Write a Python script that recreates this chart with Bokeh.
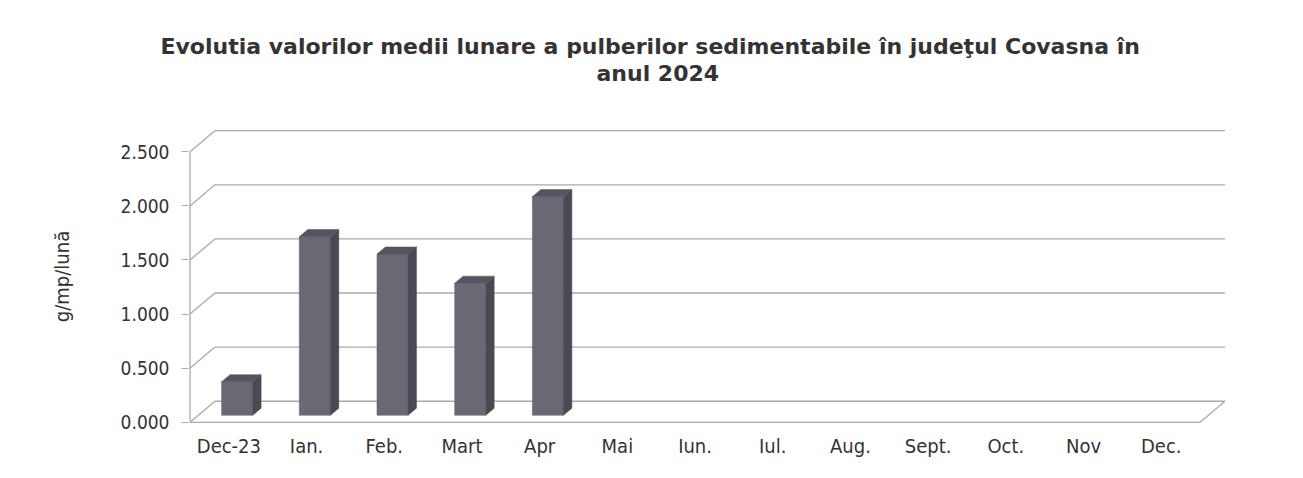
import numpy as np
from bokeh.plotting import figure
from bokeh.models import Range1d, FixedTicker, NumeralTickFormatter, Title
from bokeh.embed import file_html
from bokeh.resources import INLINE

# ---------------- data ----------------
categories = ["Dec-23", "Ian.", "Feb.", "Mart", "Apr", "Mai", "Iun.", "Iul.",
              "Aug.", "Sept.", "Oct.", "Nov", "Dec."]
values = [0.31, 1.65, 1.49, 1.22, 2.02]          # g/mp/lună, first 5 months only
y_ticks = [0.0, 0.5, 1.0, 1.5, 2.0, 2.5]
title_lines = ["Evolutia valorilor medii lunare a pulberilor sedimentabile în judeţul Covasna  în",
               "anul 2024"]
y_label = "g/mp/lună"

# ---------------- style ----------------
FONT = "DejaVu Sans Condensed"
TFONT = "DejaVu Sans"
TXT = "#363233"
GRID = "#a9a9b1"
FRONT, SIDE, TOP = "#6b6874", "#4b4853", "#575461"
DX, DY = 0.32, 0.195        # 3D depth offset (data units)
F0, F1 = 0.33, 0.67         # bar depth span (fraction of depth)
BW = 0.4                    # bar width
n = len(categories)
ymax = y_ticks[-1]

p = figure(width=1295, height=470,
           x_range=Range1d(-0.02, n + DX + 0.02),
           y_range=Range1d(-0.02, ymax + DY + 0.02),
           output_backend="svg", toolbar_location=None,
           min_border_left=188, min_border_right=69,
           min_border_top=128, min_border_bottom=46)
p.outline_line_color = None
p.xgrid.visible = False
p.ygrid.visible = False
p.background_fill_color = "white"
p.border_fill_color = "white"

# ---------------- walls / floor ----------------
yt = np.array(y_ticks)
p.segment(x0=[DX] * len(yt), y0=yt + DY, x1=[n + DX] * len(yt), y1=yt + DY,
          line_color=GRID, line_width=1.3)
p.segment(x0=[0] * len(yt), y0=yt, x1=[DX] * len(yt), y1=yt + DY,
          line_color=GRID, line_width=1.3)
p.segment(x0=[0], y0=[0], x1=[0], y1=[ymax], line_color=GRID, line_width=1.3)
p.segment(x0=[0, n], y0=[0, 0], x1=[n, n + DX], y1=[0, DY],
          line_color=GRID, line_width=1.3)

# ---------------- 3D bars ----------------
v = np.array(values)
idx = np.arange(len(v))
x0 = idx + 0.5 - BW / 2
x1 = idx + 0.5 + BW / 2

p.quad(left=x0 + F0 * DX, right=x1 + F0 * DX, bottom=F0 * DY, top=v + F0 * DY,
       fill_color=FRONT, line_color=FRONT, line_width=0.5)

side_xs = [[a + F0 * DX, a + F1 * DX, a + F1 * DX, a + F0 * DX] for a in x1]
side_ys = [[F0 * DY, F1 * DY, h + F1 * DY, h + F0 * DY] for h in v]
p.patches(side_xs, side_ys, fill_color=SIDE, line_color=SIDE, line_width=0.5)

top_xs = [[a + F0 * DX, b + F0 * DX, b + F1 * DX, a + F1 * DX] for a, b in zip(x0, x1)]
top_ys = [[h + F0 * DY, h + F0 * DY, h + F1 * DY, h + F1 * DY] for h in v]
p.patches(top_xs, top_ys, fill_color=TOP, line_color=TOP, line_width=0.5)

# ---------------- axes ----------------
xa = p.xaxis[0]
xa.ticker = FixedTicker(ticks=[i + 0.5 for i in range(n)])
xa.major_label_overrides = {i + 0.5: c for i, c in enumerate(categories)}
xa.axis_line_color = None
xa.major_tick_line_color = None
xa.minor_tick_line_color = None
xa.major_label_standoff = 3
xa.major_label_text_font = FONT
xa.major_label_text_font_size = "20px"
xa.major_label_text_color = TXT

ya = p.yaxis[0]
ya.ticker = FixedTicker(ticks=y_ticks)
ya.formatter = NumeralTickFormatter(format="0.000")
ya.axis_line_color = None
ya.major_tick_line_color = GRID
ya.major_tick_in = 0
ya.major_tick_out = 7
ya.minor_tick_line_color = None
ya.major_label_standoff = 12
ya.major_label_text_font = FONT
ya.major_label_text_font_size = "19px"
ya.major_label_text_color = TXT
ya.axis_label = y_label
ya.axis_label_standoff = 44
ya.axis_label_text_font = FONT
ya.axis_label_text_font_size = "20px"
ya.axis_label_text_font_style = "normal"
ya.axis_label_text_color = TXT

# chart title (two lines); later-added titles sit further from the frame
p.title.visible = False
p.add_layout(Title(text=title_lines[1], align="left", offset=408, standoff=86,
                   text_font=TFONT, text_font_size="22px", text_font_style="bold",
                   text_color=TXT), "above")
p.add_layout(Title(text=title_lines[0], align="left", offset=-28, standoff=-86,
                   text_font=TFONT, text_font_size="22px", text_font_style="bold",
                   text_color=TXT), "above")

open("out.html", "w").write(file_html(p, INLINE))
